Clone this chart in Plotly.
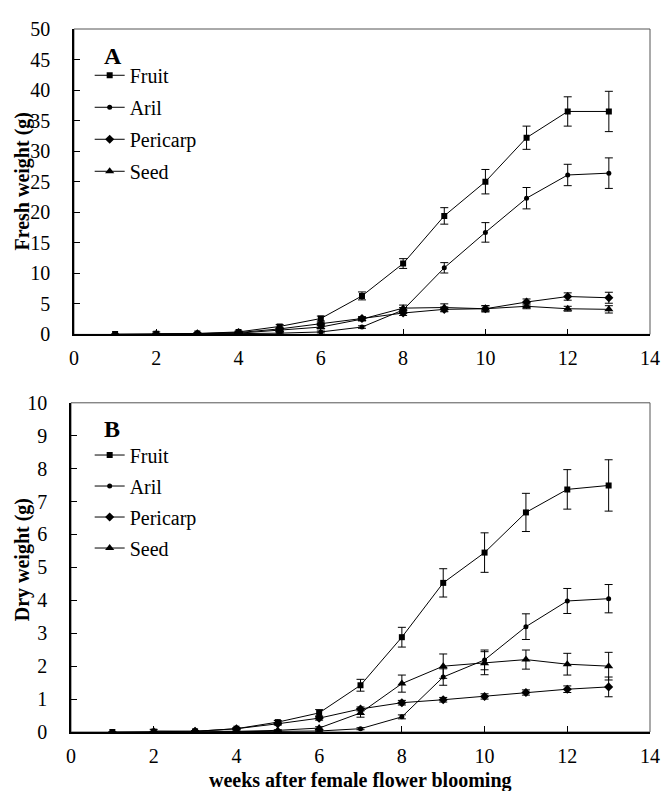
import plotly.graph_objects as go

weeks = [1, 2, 3, 4, 5, 6, 7, 8, 9, 10, 11, 12, 13]

# Fresh weight (g)
fw_fruit = [0.05, 0.1, 0.15, 0.4, 1.3, 2.6, 6.3, 11.6, 19.4, 25.0, 32.2, 36.5, 36.5]
fw_fruit_err = [0.02, 0.05, 0.1, 0.15, 0.3, 0.4, 0.65, 0.8, 1.35, 2.0, 1.9, 2.4, 3.3]
fw_aril = [None, None, 0.05, 0.1, 0.2, 0.4, 1.2, 4.0, 10.9, 16.7, 22.3, 26.1, 26.4]
fw_aril_err = [None, None, 0.02, 0.05, 0.1, 0.15, 0.2, 0.4, 0.85, 1.6, 1.75, 1.75, 2.5]
fw_peri = [None, None, 0.1, 0.3, 0.9, 1.7, 2.6, 3.5, 4.1, 4.2, 5.3, 6.2, 6.0]
fw_peri_err = [None, None, 0.05, 0.1, 0.2, 0.3, 0.3, 0.4, 0.4, 0.5, 0.5, 0.6, 0.9]
fw_seed = [None, 0.1, 0.1, 0.2, 0.7, 1.2, 2.5, 4.3, 4.4, 4.2, 4.6, 4.2, 4.1]
fw_seed_err = [None, 0.3, 0.1, 0.1, 0.2, 0.3, 0.3, 0.5, 0.6, 0.5, 0.4, 0.4, 0.6]

# Dry weight (g)
dw_fruit = [0.0, 0.01, 0.02, 0.1, 0.3, 0.58, 1.42, 2.88, 4.53, 5.45, 6.67, 7.37, 7.49]
dw_fruit_err = [0.01, 0.01, 0.02, 0.03, 0.05, 0.1, 0.18, 0.3, 0.43, 0.6, 0.58, 0.6, 0.78]
dw_aril = [None, None, 0.0, 0.01, 0.02, 0.03, 0.1, 0.46, 1.67, 2.19, 3.2, 3.98, 4.05]
dw_aril_err = [None, None, 0.01, 0.01, 0.01, 0.02, 0.03, 0.06, 0.25, 0.3, 0.39, 0.38, 0.43]
dw_peri = [None, None, 0.02, 0.1, 0.25, 0.42, 0.7, 0.89, 0.98, 1.08, 1.2, 1.3, 1.37]
dw_peri_err = [None, None, 0.01, 0.02, 0.04, 0.06, 0.06, 0.07, 0.07, 0.08, 0.08, 0.1, 0.3]
dw_seed = [None, 0.03, 0.02, 0.02, 0.05, 0.12, 0.58, 1.47, 2.0, 2.09, 2.2, 2.06, 2.0]
dw_seed_err = [None, 0.05, 0.01, 0.01, 0.02, 0.04, 0.13, 0.26, 0.37, 0.35, 0.29, 0.33, 0.42]

names = ["Fruit", "Aril", "Pericarp", "Seed"]
symbols = ["square", "circle", "diamond", "triangle-up"]
sizes = [6, 5, 7, 8]

fig = go.Figure()

top = [(fw_fruit, fw_fruit_err), (fw_aril, fw_aril_err), (fw_peri, fw_peri_err), (fw_seed, fw_seed_err)]
bot = [(dw_fruit, dw_fruit_err), (dw_aril, dw_aril_err), (dw_peri, dw_peri_err), (dw_seed, dw_seed_err)]

for i, (vals, errs) in enumerate(top):
    fig.add_trace(go.Scatter(
        x=weeks, y=vals, name=names[i], mode="lines+markers",
        line=dict(color="black", width=1),
        marker=dict(symbol=symbols[i], size=sizes[i], color="black"),
        error_y=dict(type="data", array=errs, color="black", thickness=1, width=4),
        xaxis="x", yaxis="y", legend="legend", legendgroup="t%d" % i,
    ))
for i, (vals, errs) in enumerate(bot):
    fig.add_trace(go.Scatter(
        x=weeks, y=vals, name=names[i], mode="lines+markers",
        line=dict(color="black", width=1),
        marker=dict(symbol=symbols[i], size=sizes[i], color="black"),
        error_y=dict(type="data", array=errs, color="black", thickness=1, width=4),
        xaxis="x2", yaxis="y2", legend="legend2", legendgroup="b%d" % i,
    ))

FONT = "Liberation Serif, Times New Roman, serif"
tickfont = dict(family=FONT, size=20, color="black")

axis_common = dict(
    showline=True, linecolor="black", linewidth=1.5,
    ticks="inside", ticklen=6, tickcolor="black", tickwidth=1,
    showgrid=False, zeroline=False, tickfont=tickfont,
)

# page is rendered with an 8px body margin; figure sized to fit the window
W, HT = 662, 783
T, B, L, R = 15, 59, 63, 10
PW = W - L - R
H = HT - T - B


def px_x(sx):
    return (sx - 8 - L) / PW


def px_y(sy):
    return (HT - B - (sy - 8)) / H


fig.update_layout(
    width=W, height=HT,
    margin=dict(l=L, r=R, t=T, b=B),
    paper_bgcolor="white", plot_bgcolor="white",
    font=dict(family=FONT, color="black"),
    xaxis=dict(domain=[px_x(74), 1], range=[0, 14], dtick=2, anchor="y", ticklabelstandoff=5, **axis_common),
    yaxis=dict(domain=[px_y(331), 1], range=[0, 50], dtick=5, anchor="x", ticklabelstandoff=18, **axis_common),
    xaxis2=dict(domain=[px_x(71), 1], range=[0, 14], dtick=2, anchor="y2", ticklabelstandoff=5, **axis_common),
    yaxis2=dict(domain=[0, px_y(400)], range=[0, 10], dtick=1, anchor="x2", ticklabelstandoff=18, **axis_common),
    legend=dict(x=px_x(90), y=px_y(50), xanchor="left", yanchor="top",
                font=dict(family=FONT, size=20, color="black"), bgcolor="rgba(0,0,0,0)",
                tracegroupgap=3),
    legend2=dict(x=px_x(90), y=px_y(433), xanchor="left", yanchor="top",
                 font=dict(family=FONT, size=20, color="black"), bgcolor="rgba(0,0,0,0)",
                 tracegroupgap=2),
    showlegend=True,
)

# frame (top and right borders)
for xr, yr in [("x domain", "y domain"), ("x2 domain", "y2 domain")]:
    fig.add_shape(type="rect", xref=xr, yref=yr, x0=0, x1=1, y0=0, y1=1,
                  line=dict(color="#555555", width=1), layer="below")

fig.add_annotation(text="<b>A</b>", x=0.95, y=45.6, xref="x", yref="y", showarrow=False,
                   xanchor="center", yanchor="middle",
                   font=dict(family=FONT, size=24, color="black"))
fig.add_annotation(text="<b>B</b>", x=1.0, y=9.2, xref="x2", yref="y2", showarrow=False,
                   xanchor="center", yanchor="middle",
                   font=dict(family=FONT, size=24, color="black"))
fig.add_annotation(text="<b>Fresh weight (g)</b>", textangle=-90, xref="paper", yref="paper",
                   x=px_x(22), y=px_y(176), showarrow=False, xanchor="center", yanchor="middle",
                   font=dict(family=FONT, size=20, color="black"))
fig.add_annotation(text="<b>Dry weight (g)</b>", textangle=-90, xref="paper", yref="paper",
                   x=px_x(22), y=px_y(558), showarrow=False, xanchor="center", yanchor="middle",
                   font=dict(family=FONT, size=20, color="black"))
fig.add_annotation(text="<b>weeks after female flower blooming</b>", xref="paper", yref="paper",
                   x=px_x(366), y=px_y(781), showarrow=False, xanchor="center", yanchor="middle",
                   font=dict(family=FONT, size=20, color="black"))

fig.write_html("out.html")
